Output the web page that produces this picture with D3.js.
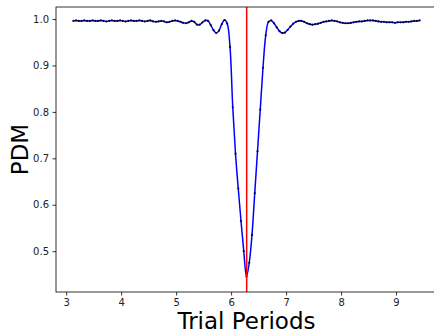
<!DOCTYPE html>
<html>
<head>
<meta charset="utf-8">
<script src="https://cdn.jsdelivr.net/npm/d3@7"></script>
<style>
  html, body { margin: 0; padding: 0; background: #fff; }
  svg { display: block; font-family: "DejaVu Sans", sans-serif; }
</style>
</head>
<body>
<div id="chart"></div>
<script>
"use strict";

// trial periods (x) and PDM statistic (y)
const periods = [
  3.13, 3.18, 3.23, 3.28, 3.33, 3.38, 3.43, 3.48, 3.53, 3.58,
  3.63, 3.68, 3.73, 3.78, 3.83, 3.88, 3.93, 3.98, 4.03, 4.08,
  4.13, 4.18, 4.23, 4.28, 4.33, 4.38, 4.43, 4.48, 4.53, 4.58,
  4.63, 4.68, 4.73, 4.78, 4.83, 4.88, 4.93, 4.98, 5.03, 5.08,
  5.13, 5.18, 5.23, 5.28, 5.33, 5.38, 5.43, 5.48, 5.53, 5.58,
  5.63, 5.68, 5.73, 5.78, 5.83, 5.88, 5.93, 5.98, 6.03, 6.08,
  6.13, 6.18, 6.23, 6.28, 6.33, 6.38, 6.43, 6.48, 6.53, 6.58,
  6.63, 6.68, 6.73, 6.78, 6.83, 6.88, 6.93, 6.98, 7.03, 7.08,
  7.13, 7.18, 7.23, 7.28, 7.33, 7.38, 7.43, 7.48, 7.53, 7.58,
  7.63, 7.68, 7.73, 7.78, 7.83, 7.88, 7.93, 7.98, 8.03, 8.08,
  8.13, 8.18, 8.23, 8.28, 8.33, 8.38, 8.43, 8.48, 8.53, 8.58,
  8.63, 8.68, 8.73, 8.78, 8.83, 8.88, 8.93, 8.98, 9.03, 9.08,
  9.13, 9.18, 9.23, 9.28, 9.33, 9.38, 9.43
];

const pdmValues = [
  0.996, 0.997, 0.996, 0.996, 0.997, 0.996, 0.996, 0.997, 0.996, 0.996,
  0.997, 0.996, 0.995, 0.996, 0.997, 0.996, 0.996, 0.997, 0.996, 0.995,
  0.996, 0.997, 0.996, 0.996, 0.997, 0.996, 0.995, 0.996, 0.997, 0.995,
  0.994, 0.995, 0.996, 0.995, 0.993, 0.994, 0.996, 0.997, 0.996, 0.994,
  0.992, 0.991, 0.993, 0.996, 0.994, 0.988, 0.988, 0.993, 0.997, 0.996,
  0.987, 0.976, 0.970, 0.975, 0.989, 0.998, 0.990, 0.940, 0.810, 0.710,
  0.635, 0.565, 0.500, 0.445, 0.475, 0.535, 0.625, 0.715, 0.805, 0.895,
  0.965, 0.994, 0.997, 0.991, 0.982, 0.974, 0.970, 0.971, 0.977, 0.984,
  0.990, 0.994, 0.996, 0.996, 0.994, 0.991, 0.989, 0.988, 0.989, 0.990,
  0.992, 0.994, 0.995, 0.996, 0.997, 0.996, 0.995, 0.993, 0.992, 0.991,
  0.991, 0.992, 0.993, 0.994, 0.995, 0.995, 0.996, 0.997, 0.997, 0.997,
  0.996, 0.995, 0.994, 0.994, 0.993, 0.993, 0.993, 0.992, 0.993, 0.993,
  0.993, 0.994, 0.994, 0.995, 0.996, 0.996, 0.997
];

const bestPeriod = 6.2832;
const xTicks = [3, 4, 5, 6, 7, 8, 9];
const yTicks = [0.5, 0.6, 0.7, 0.8, 0.9, 1.0];

const width = 434;
const height = 333;
const plot = { left: 56, right: 437, top: 7, bottom: 292 };

const svg = d3
  .select("#chart")
  .append("svg")
  .attr("width", width)
  .attr("height", height)
  .attr("viewBox", `0 0 ${width} ${height}`);

const x = d3.scaleLinear().domain([2.815, 9.745]).range([plot.left, plot.right]);
const y = d3.scaleLinear().domain([0.412, 1.026]).range([plot.bottom, plot.top]);

const points = periods.map((p, i) => ({ p, v: pdmValues[i] }));

svg
  .append("clipPath")
  .attr("id", "plot-clip")
  .append("rect")
  .attr("x", plot.left)
  .attr("y", plot.top)
  .attr("width", plot.right - plot.left)
  .attr("height", plot.bottom - plot.top);

const body = svg.append("g").attr("clip-path", "url(#plot-clip)");

const line = d3
  .line()
  .x((d) => x(d.p))
  .y((d) => y(d.v))
  .curve(d3.curveCatmullRom.alpha(0.5));

body
  .append("path")
  .datum(points)
  .attr("d", line)
  .attr("fill", "none")
  .attr("stroke", "#0000ff")
  .attr("stroke-width", 1.5)
  .attr("stroke-linejoin", "round");

body
  .selectAll("circle.pt")
  .data(points)
  .join("circle")
  .attr("class", "pt")
  .attr("cx", (d) => x(d.p))
  .attr("cy", (d) => y(d.v))
  .attr("r", 1.1)
  .attr("fill", "#000")
  .attr("opacity", 0.85);

body
  .append("line")
  .attr("x1", x(bestPeriod))
  .attr("x2", x(bestPeriod))
  .attr("y1", plot.top)
  .attr("y2", plot.bottom)
  .attr("stroke", "#ff0000")
  .attr("stroke-width", 1.5);

// axes
const xAxis = svg
  .append("g")
  .attr("transform", `translate(0,${plot.bottom})`)
  .call(d3.axisBottom(x).tickValues(xTicks).tickFormat(d3.format("d")).tickSizeInner(3.5).tickSizeOuter(0).tickPadding(3.5));

const yAxis = svg
  .append("g")
  .attr("transform", `translate(${plot.left},0)`)
  .call(d3.axisLeft(y).tickValues(yTicks).tickFormat(d3.format(".1f")).tickSizeInner(3.5).tickSizeOuter(0).tickPadding(3.5));

[xAxis, yAxis].forEach((g) => {
  g.select(".domain").remove();
  g.selectAll(".tick line").attr("stroke", "#000").attr("stroke-width", 0.8);
  g.selectAll(".tick text")
    .attr("fill", "#222")
    .attr("font-size", 10)
    .attr("font-family", "DejaVu Sans, sans-serif");
});

// spines
svg
  .append("rect")
  .attr("x", plot.left)
  .attr("y", plot.top)
  .attr("width", plot.right - plot.left)
  .attr("height", plot.bottom - plot.top)
  .attr("fill", "none")
  .attr("stroke", "#000")
  .attr("stroke-width", 0.8);

svg
  .append("text")
  .attr("x", (plot.left + plot.right) / 2)
  .attr("y", 329)
  .attr("text-anchor", "middle")
  .attr("font-size", 23)
  .attr("fill", "#000")
  .text("Trial Periods");

svg
  .append("text")
  .attr("transform", `translate(28,${(plot.top + plot.bottom) / 2}) rotate(-90)`)
  .attr("text-anchor", "middle")
  .attr("font-size", 23)
  .attr("fill", "#000")
  .text("PDM");
</script>
</body>
</html>
